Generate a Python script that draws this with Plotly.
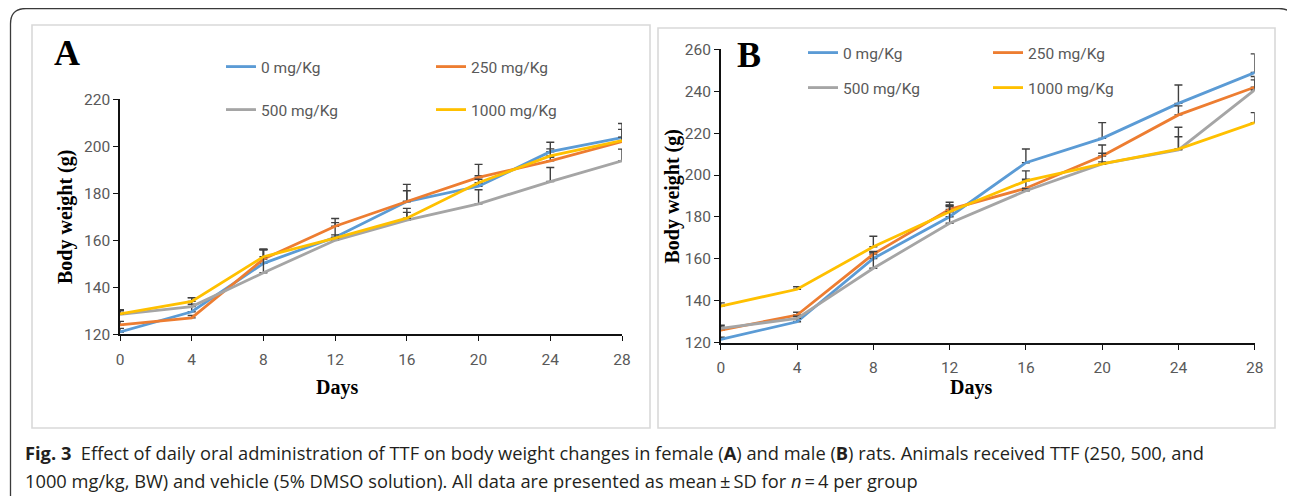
import plotly.graph_objects as go

W, H = 1295, 496
OFF = 8  # page body margin in the browser

days = [0, 4, 8, 12, 16, 20, 24, 28]
series_names = ["0 mg/Kg", "250 mg/Kg", "500 mg/Kg", "1000 mg/Kg"]
colors = ["#5B9BD5", "#ED7D31", "#A5A5A5", "#FFC000"]

# Panel A (female)
a_0 = [121.0, 129.6, 150.2, 161.3, 176.5, 183.0, 197.7, 203.7]
a_250 = [124.0, 127.0, 152.0, 166.0, 176.5, 186.8, 193.8, 202.0]
a_500 = [128.5, 131.8, 146.2, 160.0, 168.6, 175.5, 185.0, 193.8]
a_1000 = [128.7, 134.0, 153.0, 160.9, 169.4, 184.5, 195.9, 202.4]
a_sd_0 = [1.5, 6.0, 6.0, 8.0, 7.3, 4.5, 4.0, 6.0]
a_sd_250 = [1.5, 1.0, 4.0, 1.5, 4.6, 5.5, 1.5, 5.2]
a_sd_500 = [1.5, 1.0, 10.0, 1.0, 3.3, 6.0, 6.0, 5.0]
a_sd_1000 = [1.8, 1.5, 3.0, 1.4, 4.2, 1.5, 3.0, 1.5]

# Panel B (male)
b_0 = [121.6, 130.0, 160.2, 180.1, 205.9, 217.5, 234.2, 248.9]
b_250 = [126.0, 133.2, 162.3, 183.6, 193.7, 209.1, 228.7, 241.9]
b_500 = [126.8, 131.6, 155.5, 177.0, 192.5, 205.3, 212.0, 240.6]
b_1000 = [137.5, 145.5, 165.8, 182.5, 197.2, 205.3, 212.4, 225.0]
b_sd_0 = [1.0, 1.0, 3.0, 5.6, 6.5, 7.5, 8.8, 8.9]
b_sd_250 = [1.5, 1.3, 1.0, 3.4, 4.3, 5.2, 4.3, 5.1]
b_sd_500 = [1.5, 1.0, 8.0, 8.0, 1.0, 5.1, 6.3, 4.8]
b_sd_1000 = [1.5, 1.2, 5.0, 3.0, 4.8, 1.0, 10.4, 4.8]

x_ticks = [0, 4, 8, 12, 16, 20, 24, 28]
a_yticks = [120, 140, 160, 180, 200, 220]
b_yticks = [120, 140, 160, 180, 200, 220, 240, 260]

caption_1 = ("<b>Fig. 3</b>  Effect of daily oral administration of TTF on body weight changes in "
             "female (<b>A</b>) and male (<b>B</b>) rats. Animals received TTF (250, 500, and")
caption_2 = ("1000 mg/kg, BW) and vehicle (5% DMSO solution). All data are presented as mean\u2009\u00b1\u2009SD "
             "for <i>n</i>\u2009=\u20094 per group")


def px(x):
    return (x - OFF) / W


def py(y):
    return 1 - (y - OFF) / H


TICK_FONT = dict(family="Roboto, Open Sans, sans-serif", size=15.5, color="#595959")
TITLE_FONT = dict(family="Liberation Serif, Times New Roman, serif", size=20, color="#000000")
ERR_COLOR = "#404040"

fig = go.Figure()

panelA = [a_0, a_250, a_500, a_1000]
panelA_sd = [a_sd_0, a_sd_250, a_sd_500, a_sd_1000]
panelB = [b_0, b_250, b_500, b_1000]
panelB_sd = [b_sd_0, b_sd_250, b_sd_500, b_sd_1000]

for i, (vals, sd) in enumerate(zip(panelA, panelA_sd)):
    fig.add_trace(go.Scatter(
        x=days, y=vals, mode="lines", name=series_names[i],
        line=dict(color=colors[i], width=2.8),
        error_y=dict(type="data", array=sd, arrayminus=[0] * len(sd), symmetric=False,
                     color=ERR_COLOR, thickness=1.4, width=4),
        xaxis="x", yaxis="y", legend="legend" if i < 2 else "legend2",
    ))

for i, (vals, sd) in enumerate(zip(panelB, panelB_sd)):
    fig.add_trace(go.Scatter(
        x=days, y=vals, mode="lines", name=series_names[i],
        line=dict(color=colors[i], width=2.8),
        error_y=dict(type="data", array=sd, arrayminus=[0] * len(sd), symmetric=False,
                     color=ERR_COLOR, thickness=1.4, width=4),
        xaxis="x2", yaxis="y2", legend="legend3" if i < 2 else "legend4",
    ))

axis_common = dict(showgrid=False, zeroline=False, showline=True, linecolor="#111111", linewidth=1.6,
                   ticks="outside", ticklen=5, tickwidth=1.4, tickcolor="#111111", tickfont=TICK_FONT)

fig.update_layout(
    width=W, height=H,
    margin=dict(l=0, r=0, t=0, b=0, autoexpand=False),
    paper_bgcolor="white", plot_bgcolor="white",
    xaxis=dict(domain=[px(120), px(622)], range=[0, 28], tickvals=x_ticks, anchor="y",
               ticklabelstandoff=5, **axis_common),
    yaxis=dict(domain=[py(334.3), py(99.3)], range=[120, 220], tickvals=a_yticks, anchor="x", **axis_common),
    xaxis2=dict(domain=[px(720.8), px(1254.7)], range=[0, 28], tickvals=x_ticks, anchor="y2",
                ticklabelstandoff=5, **axis_common),
    yaxis2=dict(domain=[py(342.7), py(49.3)], range=[120, 260], tickvals=b_yticks, anchor="x2", **axis_common),
    showlegend=True,
)

legend_common = dict(orientation="h", xref="container", yref="container", xanchor="left", yanchor="middle",
                     bgcolor="rgba(0,0,0,0)", font=TICK_FONT, itemclick=False, itemdoubleclick=False,
                     tracegroupgap=0, itemwidth=30)
fig.update_layout(
    legend=dict(x=px(221), y=py(67), entrywidth=165, **legend_common),
    legend2=dict(x=px(221), y=py(110), entrywidth=165, **legend_common),
    legend3=dict(x=px(803), y=py(53), entrywidth=140, **legend_common),
    legend4=dict(x=px(803), y=py(88), entrywidth=140, **legend_common),
)

# Panel frames
fig.add_shape(type="rect", xref="paper", yref="paper", x0=px(32), x1=px(650), y0=py(428), y1=py(25),
              line=dict(color="#d9d9d9", width=1.6), layer="below")
fig.add_shape(type="rect", xref="paper", yref="paper", x0=px(658), x1=px(1275), y0=py(428), y1=py(28),
              line=dict(color="#d9d9d9", width=1.6), layer="below")


def P(x, y):
    return f"{px(x)},{py(y)}"


outer_path = (f"M {P(10.5, 520)} L {P(10.5, 24)} Q {P(10.5, 8.5)} {P(26, 8.5)} L {P(1279, 8.5)} "
              f"Q {P(1294, 8.5)} {P(1294, 24)} L {P(1294, 520)}")
fig.add_shape(type="path", xref="paper", yref="paper", path=outer_path,
              line=dict(color="#3a3a3a", width=1.3))

annotations = [
    dict(text="<b>A</b>", x=px(66.5), y=py(53), font=dict(family="Liberation Serif, serif", size=36, color="#000")),
    dict(text="<b>B</b>", x=px(749), y=py(54.5), font=dict(family="Liberation Serif, serif", size=36, color="#000")),
    dict(text="<b>Days</b>", x=px(337), y=py(387), font=TITLE_FONT),
    dict(text="<b>Days</b>", x=px(971), y=py(387), font=TITLE_FONT),
    dict(text="<b>Body weight (g)</b>", x=px(65.5), y=py(217.5), textangle=-90, font=TITLE_FONT),
    dict(text="<b>Body weight (g)</b>", x=px(671.5), y=py(196), textangle=-90, font=TITLE_FONT),
]
for a in annotations:
    fig.add_annotation(xref="paper", yref="paper", xanchor="center", yanchor="middle", showarrow=False, **a)

CAP_FONT = dict(family="Open Sans, Noto Sans, sans-serif", size=18.3, color="#231f20")
fig.add_annotation(text=caption_1, xref="paper", yref="paper", x=px(23), y=py(452), xanchor="left",
                   yanchor="middle", showarrow=False, font=CAP_FONT, align="left")
fig.add_annotation(text=caption_2, xref="paper", yref="paper", x=px(23), y=py(480), xanchor="left",
                   yanchor="middle", showarrow=False, font=CAP_FONT, align="left")

fig.write_html("out.html")
